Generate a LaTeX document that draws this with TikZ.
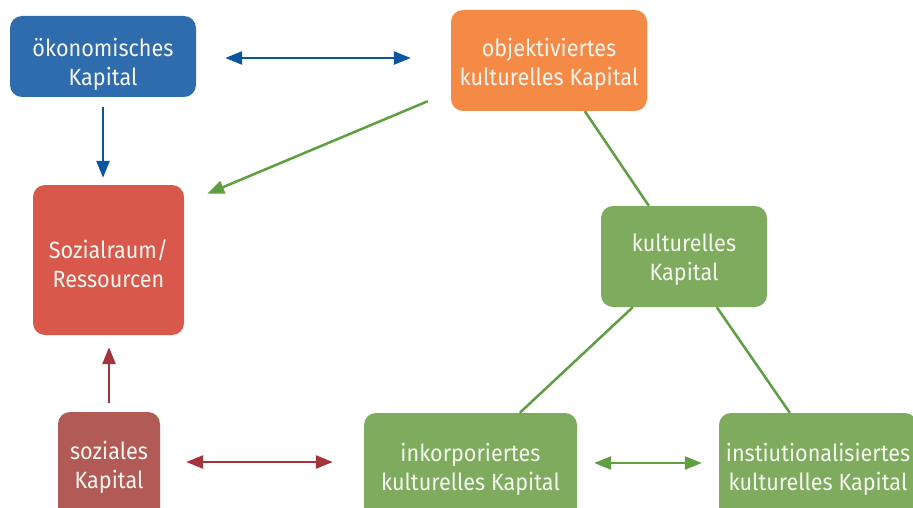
\documentclass[tikz,border=0pt]{standalone}
\usepackage{fontspec}
\setmainfont{Fira Sans}
\newfontfamily\boxfont[FakeStretch=0.92]{Fira Sans}
\usetikzlibrary{arrows.meta}
\definecolor{cblue}{HTML}{2F6CAE}
\definecolor{cbluearr}{HTML}{0B56A0}
\definecolor{corange}{HTML}{F58A46}
\definecolor{cgreen}{HTML}{7FAB5E}
\definecolor{cgreenln}{HTML}{5E9F42}
\definecolor{cred}{HTML}{D8594C}
\definecolor{cdred}{HTML}{B25A55}
\definecolor{credarr}{HTML}{A5333B}
\definecolor{ctext}{HTML}{F7F7F2}
\newcommand\boxtext[2]{\raisebox{-#1}[\height][\depth]{\begin{tabular}{@{}c@{}}#2\end{tabular}}}
\tikzset{
  box/.style={rounded corners=12pt, inner sep=0pt, align=center, text=ctext,
    font=\boxfont\fontsize{23.5}{29}\selectfont},
  tip/.style={-{Triangle[length=17pt,width=13pt]}},
  dtip/.style={{Triangle[length=17pt,width=13pt]}-{Triangle[length=17pt,width=13pt]}},
}
\begin{document}
\begin{tikzpicture}[x=1pt,y=-1pt]
\clip (0,0) rectangle (913,508);
\fill[white] (0,0) rectangle (913,508);
\node[box, fill=cblue, minimum width=186pt, minimum height=81pt] (oek) at (103,56.5) {\boxtext{9pt}{ökonomisches\\Kapital}};
\node[box, fill=corange, minimum width=196pt, minimum height=101pt] (obj) at (549,60.5) {\boxtext{5pt}{objektiviertes\\kulturelles Kapital}};
\node[box, fill=cgreen, minimum width=166pt, minimum height=101pt] (kult) at (684,256.5) {\boxtext{4pt}{kulturelles\\Kapital}};
\node[box, fill=cred, minimum width=151pt, minimum height=150pt] (sr) at (108.5,260) {\boxtext{7.5pt}{Sozialraum/\\Ressourcen}};
\node[box, fill=cdred, minimum width=102pt, minimum height=108pt] (soz) at (109,466) {\boxtext{2pt}{soziales\\Kapital}};
\node[box, fill=cgreen, minimum width=213pt, minimum height=108pt] (ink) at (470.5,467) {\boxtext{3pt}{inkorporiertes\\kulturelles Kapital}};
\node[box, fill=cgreen, minimum width=198pt, minimum height=108pt] (inst) at (818,467) {\boxtext{3pt}{instiutionalisiertes\\kulturelles Kapital}};
% blue arrows
\draw[cbluearr, line width=2.5pt, dtip, shorten <=29pt, shorten >=40pt] ([yshift=-1.5pt]oek.east) -- ([yshift=-1.5pt]oek.east -| obj.west);
\draw[cbluearr, line width=2.5pt, tip, shorten <=10pt, shorten >=7pt] (oek.south) -- (oek.south |- sr.north);
% green arrow objektiviertes -> Sozialraum
\draw[cgreenln, line width=2.5pt, tip] ([xshift=-23pt,yshift=10pt]obj.south west) -- ([xshift=23pt,yshift=-9pt]sr.north east);
% green lines
\draw[cgreenln, line width=2.5pt] ([xshift=134pt]obj.south west) -- ([xshift=48pt]kult.north west);
\draw[cgreenln, line width=2.5pt] ([xshift=32pt]kult.south west) -- ([xshift=156pt]ink.north west);
\draw[cgreenln, line width=2.5pt] ([xshift=116pt]kult.south west) -- ([xshift=71pt]inst.north west);
% red arrows
\draw[credarr, line width=2.5pt, tip, shorten <=9pt, shorten >=12pt] (soz.north) -- (soz.north |- sr.south);
\draw[credarr, line width=2.5pt, dtip, shorten <=26pt, shorten >=31pt] ([yshift=4pt]soz.east) -- ([yshift=4pt]soz.east -| ink.west);
% green double
\draw[cgreenln, line width=2.5pt, dtip, shorten <=17pt, shorten >=17pt] ([yshift=4pt]ink.east) -- ([yshift=4pt]ink.east -| inst.west);
\end{tikzpicture}
\end{document}
